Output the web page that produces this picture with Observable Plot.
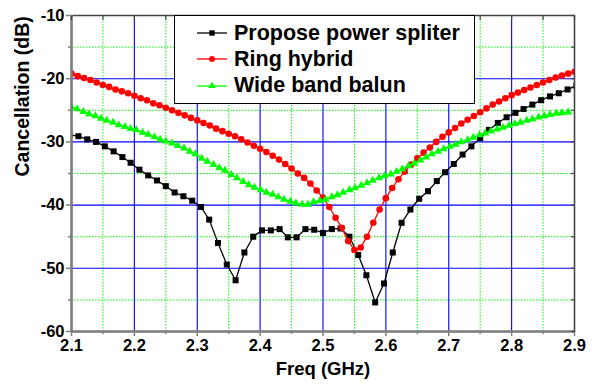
<!DOCTYPE html>
<html><head><meta charset="utf-8">
<script src="https://cdn.jsdelivr.net/npm/d3@7"></script>
<script src="https://cdn.jsdelivr.net/npm/@observablehq/plot@0.6"></script>
<style>
body{margin:0;background:#fff;}
#wrap{position:relative;width:592px;height:388px;font-family:"Liberation Sans",Arial,sans-serif;}
#legend{position:absolute;left:174px;top:15px;width:301px;height:89px;box-sizing:border-box;border:1px solid #000;background:#fff;}
.row{position:absolute;left:0;height:26px;display:flex;align-items:center;font-weight:bold;font-size:21.5px;color:#000;white-space:nowrap;}
.row svg{margin-left:21.5px;margin-right:7.5px;}
</style></head><body>
<div id="wrap"><div id="legend"></div></div>
<script>
// Tick values
const xMajor = [2.1, 2.2, 2.3, 2.4, 2.5, 2.6, 2.7, 2.8, 2.9];
const xMinor = [2.15, 2.25, 2.35, 2.45, 2.55, 2.65, 2.75, 2.85];
const yMajor = [-10, -20, -30, -40, -50, -60];
const yMinor = [-15, -25, -35, -45, -55];
const xLabel = "Freq (GHz)";
const yLabel = "Cancellation (dB)";
const seriesNames = ["Propose power spliter", "Ring hybrid", "Wide band balun"];
const seriesColors = ["#000000", "#ff0000", "#00ff00"];
const seriesSymbols = ["square", "circle", "triangle"];

// Propose power spliter
const splitterFreq = [2.097,2.111,2.125,2.139,2.153,2.167,2.181,2.194,2.208,2.222,2.236,2.250,2.264,2.278,2.292,2.306,2.319,2.333,2.347,2.361,2.375,2.389,2.403,2.417,2.431,2.444,2.458,2.472,2.486,2.500,2.514,2.528,2.542,2.556,2.569,2.583,2.597,2.611,2.625,2.639,2.653,2.667,2.681,2.694,2.708,2.722,2.736,2.750,2.764,2.778,2.792,2.806,2.819,2.833,2.847,2.861,2.875,2.889,2.903];
const splitterDb = [-28.9,-29.1,-29.6,-30.0,-30.7,-31.5,-32.4,-33.3,-34.4,-35.3,-36.1,-37.0,-38.0,-38.6,-39.3,-40.3,-42.3,-46.0,-49.4,-51.9,-47.5,-45.0,-44.0,-44.0,-43.8,-45.1,-45.1,-43.8,-43.9,-44.4,-43.8,-43.7,-45.0,-47.9,-51.1,-55.4,-52.4,-47.5,-42.8,-40.7,-39.0,-37.8,-36.2,-34.8,-33.5,-32.0,-30.7,-29.4,-28.1,-27.0,-26.1,-25.4,-24.8,-24.1,-23.4,-22.8,-22.3,-21.7,-21.1];

// Ring hybrid
const ringFreq = [2.10,2.11,2.12,2.13,2.14,2.15,2.16,2.17,2.18,2.19,2.20,2.21,2.22,2.23,2.24,2.25,2.26,2.27,2.28,2.29,2.30,2.31,2.32,2.33,2.34,2.35,2.36,2.37,2.38,2.39,2.40,2.41,2.42,2.43,2.44,2.45,2.46,2.47,2.48,2.49,2.50,2.51,2.52,2.53,2.54,2.55,2.56,2.57,2.58,2.59,2.60,2.61,2.62,2.63,2.64,2.65,2.66,2.67,2.68,2.69,2.70,2.71,2.72,2.73,2.74,2.75,2.76,2.77,2.78,2.79,2.80,2.81,2.82,2.83,2.84,2.85,2.86,2.87,2.88,2.89,2.90];
const ringDb = [-19.2,-19.6,-19.9,-20.2,-20.6,-21.0,-21.3,-21.7,-22.0,-22.3,-22.7,-23.1,-23.4,-23.9,-24.2,-24.6,-25.0,-25.4,-25.8,-26.2,-26.6,-27.0,-27.4,-27.9,-28.3,-28.7,-29.1,-29.6,-30.1,-30.6,-31.1,-31.6,-32.2,-32.8,-33.5,-34.2,-35.0,-35.7,-36.6,-37.7,-38.8,-40.3,-42.0,-43.6,-45.7,-47.1,-46.7,-45.0,-42.8,-40.7,-38.9,-37.3,-35.9,-34.7,-33.6,-32.6,-31.7,-30.9,-30.0,-29.2,-28.5,-27.8,-27.1,-26.5,-25.9,-25.3,-24.7,-24.1,-23.6,-23.1,-22.6,-22.2,-21.8,-21.4,-21.0,-20.6,-20.2,-19.8,-19.5,-19.2,-18.9];

// Wide band balun
const balunFreq = [2.100,2.109,2.119,2.128,2.138,2.147,2.156,2.166,2.175,2.185,2.194,2.203,2.213,2.222,2.232,2.241,2.250,2.260,2.269,2.279,2.288,2.297,2.307,2.316,2.326,2.335,2.344,2.354,2.363,2.373,2.382,2.391,2.401,2.410,2.420,2.429,2.438,2.448,2.457,2.467,2.476,2.485,2.495,2.504,2.514,2.523,2.532,2.542,2.551,2.561,2.570,2.579,2.589,2.598,2.608,2.617,2.626,2.636,2.645,2.655,2.664,2.673,2.683,2.692,2.702,2.711,2.720,2.730,2.739,2.749,2.758,2.767,2.777,2.786,2.796,2.805,2.814,2.824,2.833,2.843,2.852,2.861,2.871,2.880,2.890];
const balunDb = [-24.5,-24.8,-25.2,-25.6,-25.9,-26.3,-26.6,-26.9,-27.3,-27.6,-27.9,-28.1,-28.5,-28.8,-29.2,-29.6,-29.9,-30.2,-30.6,-31.0,-31.5,-31.9,-32.6,-33.1,-33.6,-34.1,-34.5,-35.2,-35.7,-36.3,-36.8,-37.2,-37.6,-38.0,-38.3,-38.7,-39.1,-39.4,-39.7,-39.9,-39.9,-39.5,-39.3,-39.1,-38.7,-38.4,-38.0,-37.6,-37.3,-36.9,-36.5,-36.1,-35.7,-35.4,-35.1,-34.7,-34.3,-33.8,-33.4,-32.9,-32.4,-31.9,-31.5,-31.1,-30.7,-30.4,-30.0,-29.7,-29.3,-28.9,-28.6,-28.3,-28.0,-27.7,-27.4,-27.1,-26.9,-26.6,-26.4,-26.1,-25.9,-25.7,-25.5,-25.4,-25.3];

const toRows = (fs, ds) => fs.map((f, i) => ({f, db: ds[i]}));
const series = [toRows(splitterFreq, splitterDb), toRows(ringFreq, ringDb), toRows(balunFreq, balunDb)];
const markerR = [3.4, 3.3, 3.0];

const seriesMarks = series.flatMap((rows, i) => [
  Plot.line(rows, {x: "f", y: "db", stroke: seriesColors[i], strokeWidth: 1.3, clip: true}),
  Plot.dot(rows, {x: "f", y: "db", symbol: seriesSymbols[i], fill: seriesColors[i], stroke: "none", r: markerR[i], clip: true})
]);

const blank = () => "";
const xAll = xMajor.concat(xMinor);
const yAll = yMajor.concat(yMinor);

const chart = Plot.plot({
  width: 592, height: 388,
  marginLeft: 71, marginRight: 18, marginTop: 15, marginBottom: 57,
  x: {domain: [2.1, 2.9]},
  y: {domain: [-60, -10]},
  style: {fontFamily: "'Liberation Sans', Arial, sans-serif", fontSize: "16.5px", fontWeight: "bold", color: "#000", background: "#fff", overflow: "visible"},
  marks: [
    Plot.ruleX(xMinor, {stroke: "#00ff00", strokeDasharray: "1.5,1.5", strokeWidth: 1}),
    Plot.ruleY(yMinor, {stroke: "#00ff00", strokeDasharray: "1.5,1.5", strokeWidth: 1}),
    Plot.ruleX(xMajor, {stroke: "#0000ff", strokeWidth: 1.1}),
    Plot.ruleY(yMajor, {stroke: "#0000ff", strokeWidth: 1.1}),
    ...seriesMarks,
    Plot.frame({stroke: "#444", strokeWidth: 1.5}),
    Plot.ruleX([2.1], {stroke: "#808080", strokeWidth: 2.5}),
    Plot.ruleY([-60], {stroke: "#808080", strokeWidth: 2.5}),
    Plot.axisY(yMajor, {anchor: "left", tickSize: 5, tickPadding: 2, stroke: "#808080", strokeWidth: 1.5, label: null, tickFormat: d => String(d)}),
    Plot.axisY(yMinor, {anchor: "left", tickSize: 3, stroke: "#808080", strokeWidth: 1.5, label: null, tickFormat: blank}),
    Plot.axisX(xMajor, {anchor: "bottom", tickSize: 5, tickPadding: 3, stroke: "#808080", strokeWidth: 1.5, label: null, tickFormat: d => d.toFixed(1)}),
    Plot.axisX(xMinor, {anchor: "bottom", tickSize: 3, stroke: "#808080", strokeWidth: 1.5, label: null, tickFormat: blank}),
    Plot.axisX(xAll, {anchor: "top", tickSize: 4, dy: 4, stroke: "#444", strokeWidth: 1.2, label: null, tickFormat: blank}),
    Plot.axisY(yAll, {anchor: "right", tickSize: 4, dx: -4, stroke: "#444", strokeWidth: 1.2, label: null, tickFormat: blank}),
    Plot.text([xLabel], {frameAnchor: "bottom", dy: 43, fontSize: 18.5, fontWeight: "bold", fill: "#000"}),
    Plot.text([yLabel], {frameAnchor: "left", dx: -49, dy: 3, rotate: -90, fontSize: 19.5, fontWeight: "bold", fill: "#000"})
  ]
});
const wrap = document.getElementById("wrap");
wrap.insertBefore(chart, wrap.firstChild);

// Legend
const legend = d3.select("#legend");
const rowTops = [4, 30.4, 56.8];
seriesNames.forEach((name, i) => {
  const row = legend.append("div").attr("class", "row").style("top", rowTops[i] + "px");
  const svg = row.append("svg").attr("width", 30).attr("height", 12);
  svg.append("line").attr("x1", 0).attr("x2", 30).attr("y1", 6).attr("y2", 6).attr("stroke", seriesColors[i]).attr("stroke-width", 1.3);
  const sym = {square: d3.symbolSquare, circle: d3.symbolCircle, triangle: d3.symbolTriangle}[seriesSymbols[i]];
  svg.append("path").attr("transform", "translate(15,6)").attr("d", d3.symbol(sym, Math.PI * markerR[i] * markerR[i] * 0.8)()).attr("fill", seriesColors[i]);
  row.append("span").text(name);
});
</script>
</body></html>
